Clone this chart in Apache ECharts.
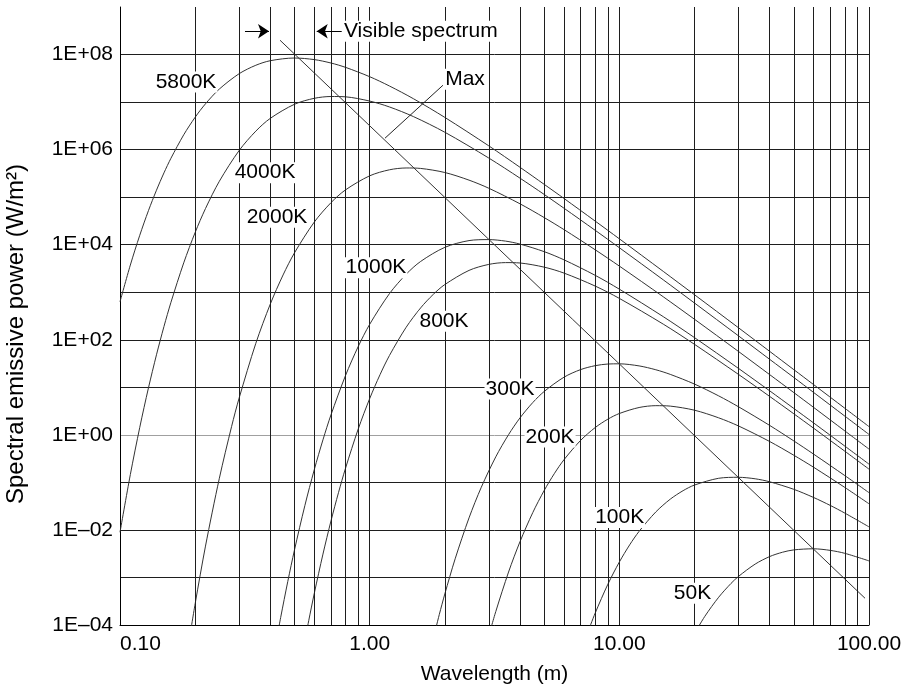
<!DOCTYPE html>
<html>
<head>
<meta charset="utf-8">
<script src="https://cdn.jsdelivr.net/npm/echarts@6/dist/echarts.min.js"></script>
<style>html,body{margin:0;padding:0;background:#fff}#c{width:904px;height:691px}</style>
</head>
<body>
<div id="c"></div>
<script>
// ---- Data (wavelength, spectral emissive power) ----
const wl5800 = [0.1,0.11,0.12,0.13,0.14,0.15,0.16,0.18,0.2,0.22,0.25,0.3,0.35,0.4,0.5,0.6,0.7,0.8,1,1.2,1.5,2,3,4,5,6,8,10,15,20,30,40,50,60,80,100];
const e5800  = [630,3730,1.58e4,5.20e4,1.40e5,3.24e5,6.59e5,2.05e6,4.80e6,9.20e6,1.88e7,3.95e7,5.95e7,7.42e7,8.45e7,7.83e7,6.63e7,5.38e7,3.42e7,2.18e7,1.17e7,4.76e6,1.20e6,4.25e5,1.86e5,9.40e4,3.14e4,1.33e4,2740,886,179,57.1,23.5,11.4,3.63,1.49];

const wl4000 = [0.1,0.11,0.12,0.13,0.14,0.15,0.16,0.18,0.2,0.22,0.25,0.3,0.35,0.4,0.5,0.6,0.7,0.8,1,1.2,1.5,2,3,4,5,6,8,10,15,20,30,40,50,60,80,100];
const e4000  = [8.94e-3,0.146,1.44,9.70,48.3,190,615,4150,1.81e4,5.76e4,2.16e5,9.56e5,2.45e6,4.55e6,9.00e6,1.20e7,1.31e7,1.29e7,1.05e7,7.90e6,4.93e6,2.32e6,6.65e5,2.51e5,1.14e5,5.86e4,2.01e4,8640,1820,593,121,38.8,16.1,7.79,2.48,1.02];

const wl2000 = [0.19,0.2,0.22,0.25,0.28,0.3,0.35,0.4,0.45,0.5,0.6,0.7,0.8,1,1.2,1.4,1.6,2,2.5,3,4,5,6,8,10,15,20,30,40,50,60,80,100];
const e2000  = [5.43e-5,2.80e-4,4.57e-3,0.122,1.51,5.93,84.4,565,2310,6750,2.99e4,7.66e4,1.42e5,2.81e5,3.76e5,4.11e5,4.02e5,3.30e5,2.28e5,1.54e5,7.25e4,3.72e4,2.08e4,7830,3550,801,270,56.8,18.5,7.74,3.78,1.21,0.502];

const wl1000 = [0.42,0.44,0.47,0.5,0.55,0.6,0.65,0.7,0.8,0.9,1,1.2,1.4,1.6,2,2.5,3,3.5,4,5,6,8,10,15,20,30,40,50,60,80,100];
const e1000  = [3.80e-5,1.43e-4,8.27e-4,3.81e-3,0.0324,0.185,0.786,2.64,17.6,72.3,211,933,2390,4440,8790,1.22e4,1.28e4,1.19e4,1.03e4,7140,4810,2270,1160,306,111,25.0,8.44,3.59,1.78,0.580,0.242];

const wl800 = [0.55,0.57,0.6,0.65,0.7,0.75,0.8,0.9,1,1.1,1.2,1.4,1.6,1.8,2,2.5,3,3.5,4,5,6,8,10,15,20,30,40,50,60,80,100];
const e800  = [4.68e-5,1.23e-4,4.62e-4,3.10e-3,0.0155,0.0607,0.197,1.33,5.78,18.4,46.6,183,468,907,1450,2880,3850,4200,4120,3370,2530,1350,742,213,80.2,18.7,6.44,2.77,1.38,0.453,0.190];

const wl300 = [1.8,1.9,2,2.2,2.5,2.8,3.2,3.6,4,4.5,5,6,7,8,9,10,12,14,16,20,25,30,40,50,60,80,100];
const e300  = [5.31e-5,1.65e-4,4.50e-4,2.47e-3,0.0179,0.0791,0.345,1.01,2.27,4.77,8.17,16.3,23.6,28.5,30.9,31.2,28.2,23.4,18.7,11.7,6.60,3.90,1.58,0.744,0.393,0.139,0.0608];

const wl200 = [3,3.2,3.6,4,4.5,5,5.5,6,7,8,9,10,12,14,16,20,25,30,40,50,60,80,100];
const e200  = [5.93e-5,1.92e-4,1.30e-3,5.65e-3,0.0231,0.0675,0.155,0.299,0.766,1.42,2.14,2.81,3.76,4.11,4.02,3.30,2.28,1.54,0.725,0.372,0.208,0.0783,0.0355];

const wl100 = [7.5,8,9,10,11,12,14,16,18,20,25,30,35,40,50,60,70,80,100];
const e100  = [7.35e-5,1.77e-4,7.23e-4,2.11e-3,4.85e-3,9.33e-3,0.0239,0.0444,0.0669,0.0879,0.122,0.128,0.119,0.103,0.0714,0.0481,0.0327,0.0226,0.0116];

const wl50 = [20,22,25,28,30,35,40,45,50,60,70,80,100];
const e50  = [6.60e-5,1.52e-4,3.84e-4,7.48e-4,1.05e-3,1.91e-3,2.75e-3,3.39e-3,3.80e-3,4.01e-3,3.71e-3,3.22e-3,2.23e-3];

// Wien "Max" line end points
const wlMax = [0.4375, 96.4];
const eMax  = [2.0e8, 3.65e-4];

// Tick / grid values
const xMinorGrid = [0.2,0.3,0.4,0.5,0.6,0.7,0.8,0.9,2,3,4,5,6,7,8,9,20,30,40,50,60,70,80,90];

// Curve labels: [wavelength, power, text]
const curveLabels = [
  [0.1838, 2.65e7, '5800K'],
  [0.381, 3.27e5, '4000K'],
  [0.4255, 3.79e4, '2000K'],
  [1.060, 3.29e3, '1000K'],
  [1.985, 246, '800K'],
  [3.65, 9.18, '300K'],
  [5.28, 0.898, '200K'],
  [10.03, 0.01824, '100K'],
  [19.63, 4.65e-4, '50K'],
  [2.409, 3.03e7, 'Max'],
  [1.603, 3.09e8, 'Visible spectrum']
];
// Annotation segments: [[x1,y1],[x2,y2]]
const maxLeader = [[1.966, 2.26e7], [1.152, 1.74e6]];
const arrowRight = [[0.3167, 3.09e8], [0.3952, 3.09e8]];
const arrowLeft  = [[0.7727, 3.09e8], [0.6136, 3.09e8]];

// ---- Chart ----
const FONT = "'Liberation Sans', Arial, Helvetica, sans-serif";
const TXT = '#000';
const GRIDC = '#1e1e1e';
function zip(a, b) { return a.map((v, i) => [v, b[i]]); }

const curves = [
  ['5800K', wl5800, e5800], ['4000K', wl4000, e4000], ['2000K', wl2000, e2000],
  ['1000K', wl1000, e1000], ['800K', wl800, e800], ['300K', wl300, e300],
  ['200K', wl200, e200], ['100K', wl100, e100], ['50K', wl50, e50]
];

const series = [];
// minor vertical grid lines
series.push({
  type: 'line', name: 'grid', data: [], z: 1, silent: true, animation: false,
  markLine: {
    silent: true, animation: false, symbol: ['none', 'none'], label: { show: false },
    lineStyle: { color: GRIDC, width: 1, type: 'solid' },
    emphasis: { disabled: true },
    data: xMinorGrid.map(v => ({ xAxis: v }))
  }
});
curves.forEach(c => {
  series.push({
    type: 'line', name: c[0], data: zip(c[1], c[2]), symbol: 'none', showSymbol: false,
    smooth: 0.3, clip: true, silent: true, animation: false, z: 3,
    lineStyle: { color: '#333', width: 1 }
  });
});
series.push({
  type: 'line', name: 'Max', data: zip(wlMax, eMax), symbol: 'none', showSymbol: false,
  clip: true, silent: true, animation: false, z: 3,
  lineStyle: { color: '#333', width: 1 },
  markLine: {
    silent: true, animation: false, label: { show: false }, emphasis: { disabled: true },
    lineStyle: { color: '#222', width: 1, type: 'solid' },
    symbolSize: 11,
    data: [
      [{ coord: maxLeader[0], symbol: 'none' }, { coord: maxLeader[1], symbol: 'none' }],
      [{ coord: arrowRight[0], symbol: 'none' }, { coord: arrowRight[1], symbol: 'arrow', lineStyle: { color: '#000' } }],
      [{ coord: arrowLeft[0], symbol: 'none' }, { coord: arrowLeft[1], symbol: 'arrow', lineStyle: { color: '#000' } }]
    ]
  }
});
series.push({
  type: 'scatter', name: 'labels', silent: true, animation: false, z: 6,
  symbolSize: 1, itemStyle: { color: '#fff', opacity: 1 },
  data: curveLabels.map(l => ({ value: [l[0], l[1]], name: l[2] })),
  label: {
    show: true, position: 'inside', formatter: '{b}', fontSize: 21, fontFamily: FONT,
    color: TXT, opacity: 1, textBorderWidth: 0, textBorderColor: 'transparent',
    backgroundColor: '#fff', padding: [0, 1, 0, 1]
  }
});

const yLineColors = [];
for (let i = 0; i < 14; i++) yLineColors.push(i === 4 ? '#a0a0a0' : GRIDC);

const option = {
  backgroundColor: '#fff',
  animation: false,
  grid: { left: 120, right: 35, top: 7, bottom: 66, containLabel: false, outerBoundsMode: 'none' },
  xAxis: {
    type: 'log', logBase: 10, min: 0.1, max: 100,
    axisLine: { show: true, lineStyle: { color: '#000', width: 1 } },
    axisTick: { show: false },
    axisLabel: {
      formatter: v => Number(v).toFixed(2), fontSize: 21, fontFamily: FONT, color: TXT,
      margin: 9, showMinLabel: true, showMaxLabel: true, alignMinLabel: 'left'
    },
    splitLine: { show: true, lineStyle: { color: GRIDC, width: 1 } },
    minorTick: { show: false }, minorSplitLine: { show: false },
    name: 'Wavelength (m)', nameLocation: 'middle', nameGap: 39,
    nameTextStyle: { fontSize: 21, fontFamily: FONT, color: TXT }
  },
  yAxis: {
    type: 'log', logBase: 10, min: 1e-4, max: 1e9, interval: 1, splitNumber: 13,
    axisLine: { show: true, lineStyle: { color: '#000', width: 1 } },
    axisTick: { show: false },
    axisLabel: {
      fontSize: 21, fontFamily: FONT, color: TXT, margin: 7, showMaxLabel: true,
      formatter: v => {
        const p = Math.round(Math.log10(v));
        if (p % 2 !== 0) return '';
        return '1E' + (p < 0 ? '\u2013' : '+') + String(Math.abs(p)).padStart(2, '0');
      }
    },
    splitLine: { show: true, showMinLine: true, showMaxLine: false, lineStyle: { color: yLineColors, width: 1 } },
    name: 'Spectral emissive power (W/m\u00B2)', nameLocation: 'middle', nameGap: 92,
    nameMoveOverlap: false,
    nameTextStyle: { fontSize: 24, fontFamily: FONT, color: TXT, padding: [0, 36, 0, 0] }
  },
  series: series
};
const chart = echarts.init(document.getElementById('c'), null, { renderer: 'canvas' });
chart.setOption(option);
</script>
</body>
</html>
